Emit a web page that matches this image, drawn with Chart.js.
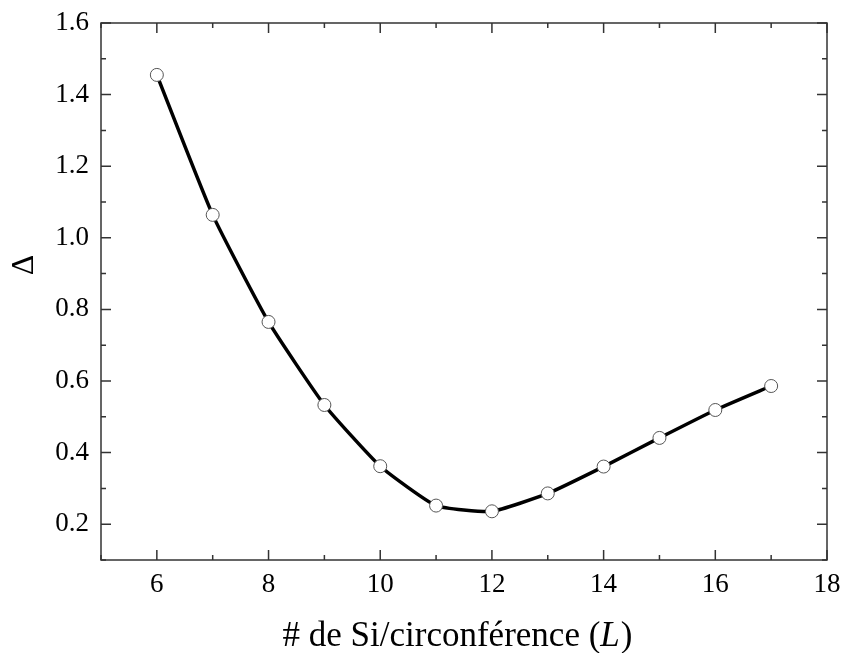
<!DOCTYPE html>
<html>
<head>
<meta charset="utf-8">
<script src="https://cdn.jsdelivr.net/npm/chart.js@4/dist/chart.umd.min.js"></script>
<style>
  html, body { margin: 0; padding: 0; background: #fff; }
  #wrap { width: 841px; height: 653px; }
</style>
</head>
<body>
<div id="wrap"><canvas id="chartDelta"></canvas></div>
<script>
const tailles = [6, 7, 8, 9, 10, 11, 12, 13, 14, 15, 16, 17]
const delta = [1.455, 1.064, 0.765, 0.533, 0.362, 0.252, 0.236, 0.286, 0.361, 0.441, 0.519, 0.586]
const xTicks = [6, 8, 10, 12, 14, 16, 18]
const xMinor = [5, 7, 9, 11, 13, 15, 17]
const yTicks = [0.2, 0.4, 0.6, 0.8, 1.0, 1.2, 1.4, 1.6]
const yMinor = [0.1, 0.3, 0.5, 0.7, 0.9, 1.1, 1.3, 1.5]

const serif = '"Liberation Serif", "Times New Roman", serif'

// cadre + graduations vers l'interieur sur les 4 cotes, titres
const cadre = {
    id: 'cadre',
    afterDraw(chart) {
        const { ctx, chartArea: a, scales } = chart
        const x = scales.x, y = scales.y
        ctx.save()
        ctx.strokeStyle = '#333'
        ctx.lineWidth = 1.5
        ctx.strokeRect(a.left, a.top, a.right - a.left, a.bottom - a.top)

        const tickX = (v, len) => {
            const px = x.getPixelForValue(v)
            ctx.moveTo(px, a.bottom); ctx.lineTo(px, a.bottom - len)
            ctx.moveTo(px, a.top); ctx.lineTo(px, a.top + len)
        }
        const tickY = (v, len) => {
            const py = y.getPixelForValue(v)
            ctx.moveTo(a.left, py); ctx.lineTo(a.left + len, py)
            ctx.moveTo(a.right, py); ctx.lineTo(a.right - len, py)
        }
        ctx.beginPath()
        xTicks.forEach(v => tickX(v, 10))
        xMinor.forEach(v => tickX(v, 5))
        yTicks.forEach(v => tickY(v, 10))
        yMinor.forEach(v => tickY(v, 5))
        ctx.stroke()

        // titre axe y
        ctx.fillStyle = '#000'
        ctx.save()
        ctx.translate(25, 265)
        ctx.rotate(-Math.PI / 2)
        ctx.font = '32px ' + serif
        ctx.textAlign = 'center'
        ctx.textBaseline = 'middle'
        ctx.fillText('Δ', 0, 0)
        ctx.restore()

        // titre axe x avec L en italique
        const partA = '# de Si/circonférence ('
        const partL = 'L'
        const partB = ')'
        const fN = '35px ' + serif
        const fI = 'italic 35px ' + serif
        ctx.font = fN
        const wA = ctx.measureText(partA).width
        const wB = ctx.measureText(partB).width
        ctx.font = fI
        const wL = ctx.measureText(partL).width
        let cx = 457 - (wA + wL + wB) / 2
        const by = 646
        ctx.textBaseline = 'alphabetic'
        ctx.textAlign = 'left'
        ctx.font = fN
        ctx.fillText(partA, cx, by)
        cx += wA
        ctx.font = fI
        ctx.fillText(partL, cx, by)
        cx += wL + 1
        ctx.font = fN
        ctx.fillText(partB, cx, by)
        ctx.restore()
    }
}

const chartDelta = new Chart(document.getElementById('chartDelta'), {
    type: 'line',
    data: {
        datasets: [
            {
                data: tailles.map((t, i) => ({ x: t, y: delta[i] })),
                borderColor: '#000',
                borderWidth: 3.5,
                tension: 0.15,
                pointRadius: 6.5,
                pointBorderWidth: 1,
                pointBorderColor: '#555',
                pointBackgroundColor: '#fff'
            }
        ]
    },
    options: {
        responsive: true,
        maintainAspectRatio: false,
        animation: false,
        layout: { padding: { top: 23, right: 14, left: 0, bottom: 0 } },
        plugins: { legend: { display: false }, tooltip: { enabled: false } },
        scales: {
            x: {
                type: 'linear',
                min: 5,
                max: 18,
                afterBuildTicks: s => { s.ticks = xTicks.map(v => ({ value: v })) },
                afterFit: s => { s.height = 93; s.paddingLeft = 0; s.paddingRight = 0 },
                grid: { display: false, drawTicks: false },
                border: { display: false },
                ticks: {
                    padding: 9,
                    color: '#000',
                    maxRotation: 0,
                    font: { family: serif, size: 27 }
                }
            },
            y: {
                type: 'linear',
                min: 0.1,
                max: 1.6,
                afterBuildTicks: s => { s.ticks = yTicks.map(v => ({ value: v })) },
                afterFit: s => { s.width = 101; s.paddingTop = 0; s.paddingBottom = 0 },
                grid: { display: false, drawTicks: false },
                border: { display: false },
                ticks: {
                    padding: 12,
                    color: '#000',
                    font: { family: serif, size: 27 },
                    callback: v => v.toFixed(1)
                }
            }
        }
    },
    plugins: [cadre]
})
</script>
</body>
</html>
